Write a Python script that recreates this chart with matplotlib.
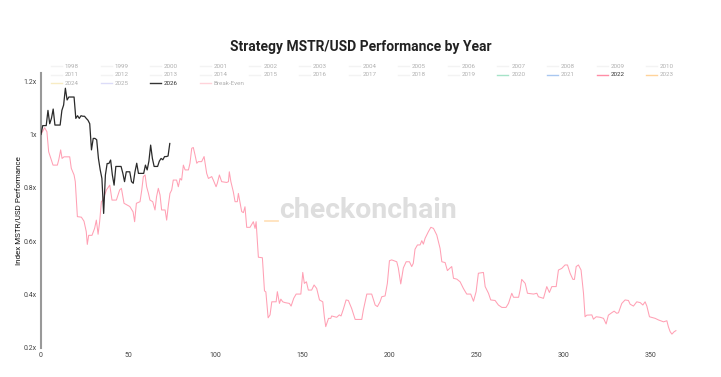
import matplotlib
matplotlib.use("Agg")
import matplotlib.pyplot as plt
from matplotlib.lines import Line2D

W, H = 721, 377

# 2026 (daily index, starts at day 0)
vals_2026 = [1.00, 1.033, 1.033, 1.033, 1.09, 1.04, 1.06, 1.095, 1.035, 1.035,
             1.035, 1.035, 1.09, 1.11, 1.173, 1.129, 1.14, 1.14, 1.14, 1.14,
             1.06, 1.07, 1.06, 1.07, 1.068, 1.068, 1.06, 1.053, 1.04, 0.942,
             0.985, 0.985, 0.98, 0.91, 0.868, 0.835, 0.704, 0.848, 0.891, 0.891,
             0.904, 0.848, 0.81, 0.88, 0.88, 0.88, 0.88, 0.855, 0.823, 0.86,
             0.86, 0.86, 0.823, 0.817, 0.86, 0.892, 0.854, 0.854, 0.854, 0.854,
             0.885, 0.867, 0.90, 0.96, 0.91, 0.88, 0.88, 0.88, 0.90, 0.91,
             0.905, 0.917, 0.917, 0.919, 0.966]

# 2022 (day, index)
days_2022 = [0, 2.1, 3.4, 4.4, 5.9, 6.9, 9.4, 10.2, 11.3, 12.1, 13.2, 16.5, 17.4, 19, 19.7,
             20.9, 23.2, 24.7, 26, 26.6, 27.4, 29.3, 30.8, 31.8, 32.8, 33.7, 34.7, 35.6,
             37.6, 39.5, 40.8, 43.3, 45.2, 46.2, 47.7, 51, 52.9, 53.8, 54.8, 56.9, 57.9,
             58.8, 59.8, 60.7, 61.7, 62.6, 64.2, 65.5, 66.4, 67.4, 68.4, 69.3, 71.3, 72.2,
             73.2, 74.1, 75.1, 76, 77.9, 78.9, 79.9, 80.8, 81.8, 82.8, 84.7, 85.6, 86.6,
             87.5, 88.5, 89.5, 90.4, 92.3, 93.7, 95.2, 96.2, 98.1, 99, 100.6, 101.3, 102.5,
             103.8, 106.7, 107.7, 108.2, 109.1, 110.5, 111.5, 112.8, 113.4, 114.4, 115.3,
             116.3, 117.2, 118.2, 120.1, 122, 123, 123.6, 124.4, 124.9, 127.2, 128.4, 129.2,
             130.5, 131.6, 132.6, 135.1, 135.8, 137, 137.8, 138.9, 140.2, 142.7, 143.7,
             145.2, 146.6, 149.3, 150.4, 151.3, 152.5, 153.6, 155.5, 156.9, 158.4, 160,
             161.9, 162.8, 163.6, 165.2, 166.5, 167, 169.9, 171.4, 172.4, 173.7, 175.3,
             176.6, 178.5, 180.5, 184.3, 185.2, 187.2, 190, 192, 193.3, 194.8, 195.8,
             197.7, 199, 200.2, 201.5, 204.4, 205.3, 206.7, 208.2, 209.8, 211.7, 213,
             213.9, 214.9, 216.3, 217.8, 218.8, 219.7, 220.7, 222.6, 224, 225.5, 227.4,
             229.3, 230.3, 232.2, 233.5, 235.1, 236, 237, 238.9, 240.8, 242.7, 244.6,
             246.9, 248.5, 250, 251.3, 254.2, 255.2, 257.1, 258.4, 260.9, 262.8, 264.8,
             267.2, 268.6, 270.5, 271.5, 274.4, 275.3, 276.2, 278.2, 279.5, 283, 284.9,
             285.8, 288.7, 290.6, 292.1, 293.5, 296, 297.3, 299.2, 301.1, 302.5, 304,
             305.6, 306.5, 307.5, 308.8, 310.3, 311.7, 312.6, 313.6, 316.5, 317.4, 319,
             321.3, 323.2, 324.7, 326, 327.9, 329.3, 330.8, 331.8, 333.7, 335.6, 337.5,
             338.5, 340.4, 342.3, 344.3, 345.8, 347.1, 348.1, 349.6, 352.9, 354.8, 357.7,
             359.6, 360.5, 361.5, 362.5, 363.8, 364.8]
vals_2022 = [1.0, 1.025, 1.01, 0.935, 0.905, 0.885, 0.885, 0.905, 0.942, 0.91, 0.916, 0.916,
             0.873, 0.848, 0.823, 0.692, 0.69, 0.675, 0.636, 0.588, 0.622, 0.622, 0.648,
             0.679, 0.626, 0.673, 0.748, 0.754, 0.792, 0.81, 0.754, 0.754, 0.792, 0.798,
             0.742, 0.73, 0.71, 0.673, 0.742, 0.748, 0.792, 0.842, 0.848, 0.804, 0.78,
             0.754, 0.748, 0.717, 0.767, 0.798, 0.773, 0.717, 0.717, 0.679, 0.736, 0.779,
             0.792, 0.829, 0.829, 0.804, 0.835, 0.829, 0.885, 0.867, 0.867, 0.892, 0.948,
             0.951, 0.923, 0.892, 0.898, 0.898, 0.917, 0.854, 0.835, 0.842, 0.829, 0.804,
             0.817, 0.848, 0.823, 0.82, 0.823, 0.86, 0.823, 0.785, 0.748, 0.748, 0.779,
             0.742, 0.711, 0.707, 0.729, 0.652, 0.652, 0.673, 0.648, 0.673, 0.592, 0.540,
             0.538, 0.414, 0.41, 0.313, 0.324, 0.373, 0.373, 0.411, 0.367, 0.383, 0.373,
             0.37, 0.367, 0.357, 0.386, 0.402, 0.402, 0.483, 0.442, 0.448, 0.417, 0.417,
             0.436, 0.423, 0.38, 0.373, 0.317, 0.28, 0.311, 0.311, 0.32, 0.315, 0.324,
             0.32, 0.345, 0.38, 0.378, 0.348, 0.307, 0.307, 0.342, 0.402, 0.402, 0.361,
             0.355, 0.373, 0.392, 0.395, 0.442, 0.527, 0.53, 0.523, 0.5, 0.44, 0.5, 0.523,
             0.523, 0.505, 0.517, 0.57, 0.586, 0.586, 0.602, 0.589, 0.611, 0.636, 0.652,
             0.648, 0.623, 0.573, 0.523, 0.52, 0.49, 0.5, 0.505, 0.461, 0.458, 0.448, 0.423,
             0.402, 0.402, 0.375, 0.411, 0.48, 0.483, 0.43, 0.405, 0.38, 0.378, 0.361,
             0.352, 0.352, 0.367, 0.405, 0.39, 0.39, 0.417, 0.457, 0.442, 0.405, 0.402,
             0.405, 0.392, 0.386, 0.43, 0.408, 0.43, 0.43, 0.492, 0.498, 0.511, 0.511,
             0.48, 0.457, 0.457, 0.505, 0.511, 0.492, 0.405, 0.317, 0.323, 0.324, 0.308,
             0.317, 0.315, 0.311, 0.29, 0.323, 0.332, 0.338, 0.33, 0.332, 0.367, 0.38,
             0.378, 0.364, 0.357, 0.373, 0.37, 0.361, 0.373, 0.357, 0.317, 0.311, 0.305,
             0.298, 0.302, 0.279, 0.261, 0.252, 0.261, 0.265]

legend_labels = [str(y) for y in range(1998, 2027)] + ["Break-Even"]
legend_colors = ["#f3f3f3"] * 22 + ["#a6e3c8", "#a9c7f0", "#ff8da6", "#ffd39a",
                                     "#f8ecc4", "#dcdcf8", "#333333", "#ffd3da"]
active = ["2022", "2026"]

y_ticks = [0.2, 0.4, 0.6, 0.8, 1.0, 1.2]
y_ticklabels = ["0.2x", "0.4x", "0.6x", "0.8x", "1x", "1.2x"]
x_ticks = [0, 50, 100, 150, 200, 250, 300, 350]

plt.rcParams['font.family'] = ['Roboto', 'DejaVu Sans']

fig = plt.figure(figsize=(W / 100, H / 100), dpi=100)
ax = fig.add_axes([41 / W, 1 - 348 / H, (678 - 41) / W, (348 - 73) / H])
ax.patch.set_visible(False)

ax.plot(days_2022, vals_2022, color="#ffa0b4", lw=0.75, zorder=2)
ax.plot(range(len(vals_2026)), vals_2026, color="#2a2a2a", lw=0.9, zorder=3)

ax.set_xlim(0, 366)
ax.set_ylim(0.2, 1.23)
ax.set_yticks(y_ticks)
ax.set_yticklabels(y_ticklabels)
ax.set_xticks(x_ticks)
ax.tick_params(length=0, labelsize=5, colors="#444444", pad=3)
for s in ["top", "right", "bottom"]:
    ax.spines[s].set_visible(False)
ax.spines["left"].set_color("#999999")
ax.spines["left"].set_linewidth(1.5)
ax.set_ylabel("Index MSTR/USD Performance", fontsize=5.8, color="#111111", labelpad=1)

# watermark
fig.add_artist(Line2D([265 / W, 278 / W], [1 - 221 / H, 1 - 221 / H], color="#ffe2bc",
                      lw=1.3, transform=fig.transFigure, zorder=1))
fig.text(368 / W, 1 - 211 / H, "checkonchain", color="#dedede", fontsize=20.5,
         fontweight="bold", ha="center", va="center", zorder=1)

fig.text(361 / W, 1 - 47 / H, "Strategy MSTR/USD Performance by Year",
         fontsize=10, fontweight="bold", color="#222222", ha="center", va="center")

# legend laid out like the original: 13 columns, fixed width
for i, (lab, col) in enumerate(zip(legend_labels, legend_colors)):
    r, c = divmod(i, 13)
    tx = 65 + c * 49.6
    ty = 66 + r * 8.6
    fig.add_artist(Line2D([(tx - 14) / W, (tx - 3) / W], [1 - ty / H, 1 - ty / H],
                          color=col, lw=1.0, transform=fig.transFigure))
    is_on = lab in active
    fig.text(tx / W, 1 - ty / H, lab, fontsize=4.5, va="center", ha="left",
             color="#333333" if is_on else "#b0b0b0")

fig.savefig("out.png", dpi=100)
